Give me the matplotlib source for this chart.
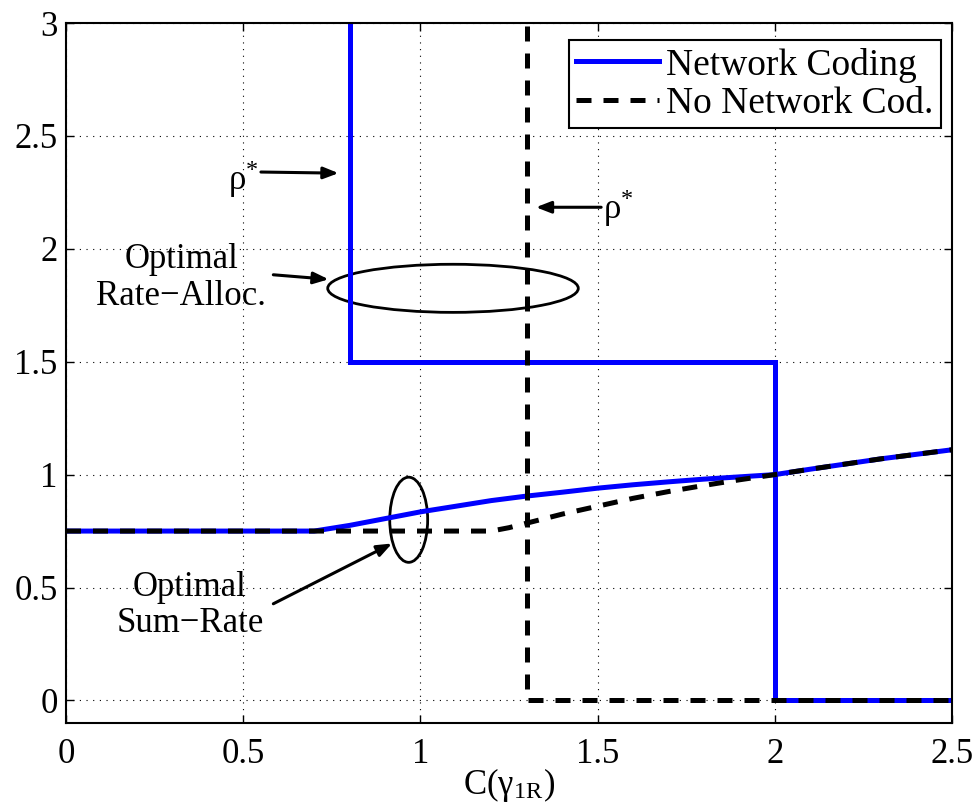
import matplotlib
matplotlib.use("Agg")
import matplotlib.pyplot as plt
from matplotlib.patches import Ellipse

plt.rcParams['font.family'] = ['Liberation Serif', 'DejaVu Serif']
plt.rcParams['mathtext.fontset'] = 'stix'

# Sum-rate curves
nc_x = [0, 0.7, 0.8, 0.9, 1.0, 1.1, 1.2, 1.3, 1.4, 1.5, 1.6, 1.7, 1.8, 1.9, 2.0, 2.1, 2.2, 2.3, 2.4, 2.5]
nc_y = [0.75, 0.75, 0.775, 0.805, 0.835, 0.86, 0.885, 0.905, 0.922, 0.94, 0.955, 0.968, 0.98, 0.99, 1.0, 1.024, 1.047, 1.07, 1.09, 1.11]
nnc_x = [0, 1.2, 1.25, 1.3, 1.4, 1.5, 1.6, 1.7, 1.8, 1.9, 2.0, 2.1, 2.2, 2.3, 2.4, 2.5]
nnc_y = [0.75, 0.75, 0.765, 0.785, 0.825, 0.86, 0.895, 0.925, 0.952, 0.977, 1.0, 1.024, 1.047, 1.07, 1.09, 1.11]

# Optimal rate allocation (rho*) step curves
nc_rho_x = [0.8, 0.8, 2.0, 2.0, 2.5]
nc_rho_y = [3.5, 1.5, 1.5, 0.0, 0.0]
nnc_rho_x = [1.3, 1.3, 2.5]
nnc_rho_y = [3.5, 0.0, 0.0]

xticks = [0, 0.5, 1, 1.5, 2, 2.5]
xticklabels = ['0', '0.5', '1', '1.5', '2', '2.5']
yticks = [0, 0.5, 1, 1.5, 2, 2.5, 3]
yticklabels = ['0', '0.5', '1', '1.5', '2', '2.5', '3']

fig = plt.figure(figsize=(9.76, 8.08), dpi=100)
ax = fig.add_axes([66/976, 1-723/808, 886/976, 700/808])

blue = '#0000ff'
lw = 3.6
dash = (3.0, 2.4)
ax.plot(nc_rho_x, nc_rho_y, color=blue, lw=lw, label='Network Coding', solid_joinstyle='miter')
ax.plot(nc_x, nc_y, color=blue, lw=lw)
ax.plot(nnc_rho_x, nnc_rho_y, color='black', lw=lw, dashes=dash, label='No Network Cod.')
ax.plot(nnc_x, nnc_y, color='black', lw=lw, dashes=dash)

ax.set_xlim(0, 2.5)
ax.set_ylim(-0.1, 3)
ax.set_xticks(xticks)
ax.set_xticklabels(xticklabels)
ax.set_yticks(yticks)
ax.set_yticklabels(yticklabels)
fs = 25
ax.tick_params(direction='in', top=True, right=True, labelsize=fs, length=6, width=1)
ax.tick_params(axis='x', pad=11)
ax.tick_params(axis='y', pad=6)
ax.grid(True, linestyle=(0, (1, 5)), color='black', lw=0.8)
for s in ax.spines.values():
    s.set_linewidth(1.5)

ax.set_xlabel(r'C(γ$_{\mathregular{1R}}$)', fontsize=fs, labelpad=-4)

# Ellipses
ax.add_patch(Ellipse((1.092, 1.825), 0.707, 0.213, fill=False, lw=2, ec='black'))
ax.add_patch(Ellipse((0.967, 0.80), 0.107, 0.377, fill=False, lw=2, ec='black'))

aprops = dict(arrowstyle='-|>,head_length=0.9,head_width=0.35', color='black', lw=2.2, shrinkA=0, shrinkB=0)

# rho* for NC
ax.annotate('', xy=(0.769, 2.335), xytext=(0.55, 2.34), arrowprops=aprops)
ax.text(0.545, 2.31, r'ρ$^{\mathregular{*}}$', fontsize=fs, ha='right', va='center')
# rho* for no NC
ax.annotate('', xy=(1.326, 2.184), xytext=(1.51, 2.184), arrowprops=aprops)
ax.text(1.515, 2.18, r'ρ$^{\mathregular{*}}$', fontsize=fs, ha='left', va='center')
# Optimal rate alloc
ax.annotate('', xy=(0.741, 1.865), xytext=(0.585, 1.885), arrowprops=aprops)
ax.text(0.325, 1.87, 'Optimal\nRate\u2212Alloc.', fontsize=fs, ha='center', va='center', linespacing=1.15)
# Optimal sum rate
ax.annotate('', xy=(0.92, 0.695), xytext=(0.585, 0.428), arrowprops=aprops)
ax.text(0.35, 0.42, 'Optimal\nSum\u2212Rate', fontsize=fs, ha='center', va='center', linespacing=1.15)

leg = ax.legend(loc='upper right', bbox_to_anchor=(0.9876, 0.9757), borderaxespad=0,
                fancybox=False, edgecolor='black', framealpha=1, fontsize=27,
                handlelength=2.2, handletextpad=0.2, borderpad=0.2, labelspacing=0.1)
leg.get_frame().set_linewidth(1.5)

fig.savefig('out.png', dpi=100)
